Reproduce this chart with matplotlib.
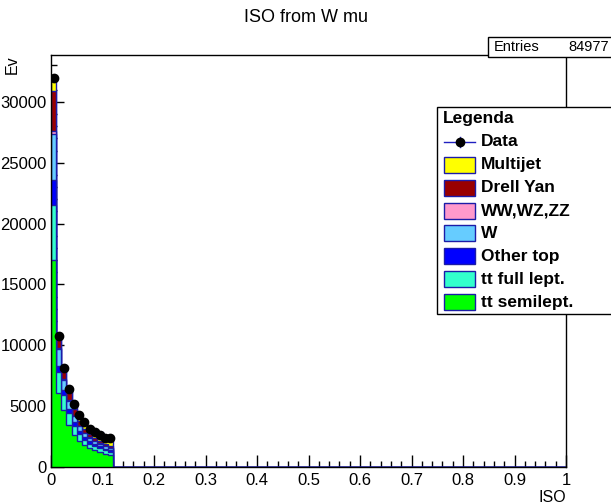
import numpy as np
import matplotlib
matplotlib.use("Agg")
import matplotlib.pyplot as plt
from matplotlib.patches import Rectangle
from matplotlib.lines import Line2D
from matplotlib.ticker import MultipleLocator, FuncFormatter

plt.rcParams['font.family'] = ['Liberation Sans', 'DejaVu Sans']

# ---- data (first 12 bins of width 0.01, remaining bins empty) ----
n_bins = 100
x_min, x_max = 0.0, 1.0
tt_semilept = [17000, 6100, 4700, 3450, 2650, 2100, 1800, 1550, 1400, 1250, 1100, 1000]
tt_full     = [4500, 1700, 1200, 1000, 750, 600, 450, 380, 330, 300, 270, 250]
other_top   = [2100, 500, 450, 350, 300, 250, 200, 180, 160, 140, 130, 120]
w_jets      = [3800, 1400, 800, 650, 500, 400, 350, 300, 260, 230, 210, 200]
diboson     = [200, 50, 40, 40, 30, 30, 25, 20, 20, 20, 15, 15]
drell_yan   = [3300, 1200, 800, 650, 500, 400, 300, 250, 220, 200, 180, 170]
multijet    = [800, 100, 250, 300, 400, 550, 650, 600, 650, 700, 700, 750]
data        = [32000, 10800, 8100, 6400, 5200, 4300, 3700, 3150, 2850, 2600, 2400, 2400]
entries = 84977

names  = ["tt semilept.", "tt full lept.", "Other top", "W", "WW,WZ,ZZ", "Drell Yan", "Multijet"]
series = [tt_semilept, tt_full, other_top, w_jets, diboson, drell_yan, multijet]
colors = ["#00ff00", "#33ffcc", "#0000ff", "#66ccff", "#ff99cc", "#990000", "#ffff00"]
outline = "#1c1ca8"

edges = np.linspace(x_min, x_max, n_bins + 1)
def pad(v):
    a = np.zeros(n_bins)
    a[:len(v)] = v
    return a

cum = np.cumsum([pad(s) for s in series], axis=0)

W, H = 611, 504
fig = plt.figure(figsize=(W / 100, H / 100), dpi=100)
ax = fig.add_axes([51 / W, 1 - 467 / H, (566 - 51) / W, (467 - 55) / H])

# draw stack: top-most cumulative first
for i in range(len(series) - 1, -1, -1):
    ax.stairs(cum[i], edges, baseline=0, fill=True, facecolor=colors[i],
              edgecolor=outline, linewidth=1.0, zorder=2 + (len(series) - i) * 0.01)

# data points
d = np.array(data, dtype=float)
centers = 0.5 * (edges[:-1] + edges[1:])[:len(d)]
ax.errorbar(centers, d, xerr=0.005, yerr=np.sqrt(d), fmt='o', color='black',
            ecolor='#2020c0', elinewidth=1, markersize=6, capsize=0, zorder=5)

ax.set_xlim(x_min, x_max)
ax.set_ylim(0, 33850)
ax.xaxis.set_major_locator(MultipleLocator(0.1))
ax.xaxis.set_minor_locator(MultipleLocator(0.02))
ax.yaxis.set_major_locator(MultipleLocator(5000))
ax.yaxis.set_minor_locator(MultipleLocator(1000))
ax.xaxis.set_major_formatter(FuncFormatter(lambda v, p: f"{v:g}"))
ax.yaxis.set_major_formatter(FuncFormatter(lambda v, p: f"{v:g}"))
ax.tick_params(which='both', direction='in', top=False, right=False, labelsize=12, width=1)
ax.tick_params(which='major', length=9)
ax.tick_params(axis='x', which='major', pad=4)
ax.tick_params(axis='y', which='major', pad=3)
ax.tick_params(which='minor', length=4.5)
for sp in ax.spines.values():
    sp.set_linewidth(1)

fig.text(306 / W, 1 - 18 / H, "ISO from W mu", ha='center', va='center', fontsize=13)
fig.text(566 / W, 1 - 497 / H, "ISO", ha='right', va='center', fontsize=11.5)
fig.text(12 / W, 1 - 55 / H, "Ev", ha='center', va='top', rotation=90, fontsize=11.5)

# stats box
def fx(px): return px / W
def fy(py): return 1 - py / H
fig.patches.append(Rectangle((fx(488), fy(57)), fx(611) - fx(488) + 0.01, fy(37) - fy(57),
                             transform=fig.transFigure, facecolor='white', edgecolor='black',
                             linewidth=1, zorder=10))
fig.text(fx(494), fy(47), "Entries", ha='left', va='center', fontsize=10.5, zorder=11)
fig.text(fx(609), fy(47), f"{entries}", ha='right', va='center', fontsize=10.5, zorder=11)

# legend
fig.patches.append(Rectangle((fx(437), fy(314)), fx(611) - fx(437) + 0.01, fy(107) - fy(314),
                             transform=fig.transFigure, facecolor='white', edgecolor='black',
                             linewidth=1, zorder=10))
fig.text(fx(443), fy(119), "Legenda", ha='left', va='center', fontsize=12.5,
         fontweight='bold', zorder=11)
row0, dy = 142, 22.86
# Data entry
fig.lines.append(Line2D([fx(444), fx(475)], [fy(row0), fy(row0)], transform=fig.transFigure,
                        color='#2020c0', linewidth=1, zorder=11))
fig.lines.append(Line2D([fx(459.5), fx(459.5)], [fy(row0 - 5), fy(row0 + 5)],
                        transform=fig.transFigure, color='#2020c0', linewidth=1, zorder=11))
fig.lines.append(Line2D([fx(459.5)], [fy(row0)], transform=fig.transFigure, marker='o',
                        color='black', markersize=6, zorder=12))
fig.text(fx(481), fy(row0), "Data", ha='left', va='center', fontsize=12.5,
         fontweight='bold', zorder=11)
leg_order = list(range(len(series) - 1, -1, -1))
for k, i in enumerate(leg_order):
    yc = row0 + dy * (k + 1)
    fig.patches.append(Rectangle((fx(444), fy(yc + 8)), fx(475) - fx(444), fy(yc - 8) - fy(yc + 8),
                                 transform=fig.transFigure, facecolor=colors[i],
                                 edgecolor=outline, linewidth=1, zorder=11))
    fig.text(fx(481), fy(yc), names[i], ha='left', va='center', fontsize=12.5,
             fontweight='bold', zorder=11)

fig.savefig("out.png", dpi=100)
